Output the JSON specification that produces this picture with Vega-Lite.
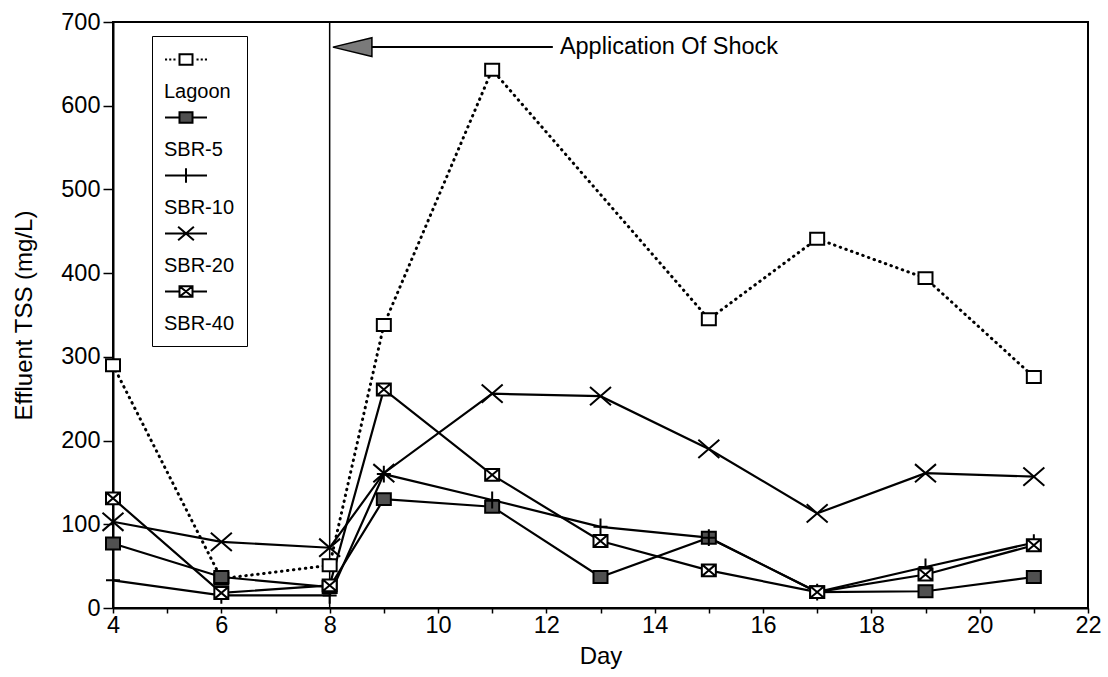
{
  "$schema": "https://vega.github.io/schema/vega-lite/v6.json",
  "width": 975,
  "height": 586,
  "autosize": {"type": "none"},
  "padding": {"left": 113, "top": 22, "right": 20, "bottom": 69},
  "background": "white",
  "config": {
    "view": {"stroke": "black", "strokeWidth": 2},
    "font": "Liberation Sans",
    "axis": {
      "domainColor": "black", "domainWidth": 2, "tickColor": "black", "tickWidth": 1.5,
      "labelColor": "black", "titleColor": "black", "labelFont": "Liberation Sans", "titleFont": "Liberation Sans",
      "labelFontSize": 23.5, "titleFontSize": 24, "titleFontWeight": "normal", "grid": false
    }
  },
  "datasets": {
    "tss": [
      {"series": "Lagoon", "day": 4, "tss": 290},
      {"series": "Lagoon", "day": 6, "tss": 35},
      {"series": "Lagoon", "day": 8, "tss": 51},
      {"series": "Lagoon", "day": 9, "tss": 338},
      {"series": "Lagoon", "day": 11, "tss": 643},
      {"series": "Lagoon", "day": 15, "tss": 345},
      {"series": "Lagoon", "day": 17, "tss": 441},
      {"series": "Lagoon", "day": 19, "tss": 394},
      {"series": "Lagoon", "day": 21, "tss": 276},
      {"series": "SBR-5", "day": 4, "tss": 77},
      {"series": "SBR-5", "day": 6, "tss": 37},
      {"series": "SBR-5", "day": 8, "tss": 25},
      {"series": "SBR-5", "day": 9, "tss": 130},
      {"series": "SBR-5", "day": 11, "tss": 121},
      {"series": "SBR-5", "day": 13, "tss": 37},
      {"series": "SBR-5", "day": 15, "tss": 84},
      {"series": "SBR-5", "day": 17, "tss": 19},
      {"series": "SBR-5", "day": 19, "tss": 20},
      {"series": "SBR-5", "day": 21, "tss": 37},
      {"series": "SBR-10", "day": 4, "tss": 33},
      {"series": "SBR-10", "day": 6, "tss": 15},
      {"series": "SBR-10", "day": 8, "tss": 15},
      {"series": "SBR-10", "day": 9, "tss": 160},
      {"series": "SBR-10", "day": 11, "tss": 129},
      {"series": "SBR-10", "day": 13, "tss": 97},
      {"series": "SBR-10", "day": 15, "tss": 84},
      {"series": "SBR-10", "day": 17, "tss": 19},
      {"series": "SBR-10", "day": 19, "tss": 49},
      {"series": "SBR-10", "day": 21, "tss": 78},
      {"series": "SBR-20", "day": 4, "tss": 103},
      {"series": "SBR-20", "day": 6, "tss": 79},
      {"series": "SBR-20", "day": 8, "tss": 72},
      {"series": "SBR-20", "day": 9, "tss": 161},
      {"series": "SBR-20", "day": 11, "tss": 256},
      {"series": "SBR-20", "day": 13, "tss": 253},
      {"series": "SBR-20", "day": 15, "tss": 190},
      {"series": "SBR-20", "day": 17, "tss": 113},
      {"series": "SBR-20", "day": 19, "tss": 161},
      {"series": "SBR-20", "day": 21, "tss": 157},
      {"series": "SBR-40", "day": 4, "tss": 131},
      {"series": "SBR-40", "day": 6, "tss": 18},
      {"series": "SBR-40", "day": 8, "tss": 27},
      {"series": "SBR-40", "day": 9, "tss": 261},
      {"series": "SBR-40", "day": 11, "tss": 159},
      {"series": "SBR-40", "day": 13, "tss": 80},
      {"series": "SBR-40", "day": 15, "tss": 45},
      {"series": "SBR-40", "day": 17, "tss": 19},
      {"series": "SBR-40", "day": 19, "tss": 40},
      {"series": "SBR-40", "day": 21, "tss": 75}
    ]
  },
  "encoding": {
    "x": {
      "field": "day", "type": "quantitative",
      "scale": {"domain": [4, 22], "nice": false, "zero": false},
      "axis": {
        "title": "Day",
        "values": [4, 5, 6, 7, 8, 9, 10, 11, 12, 13, 14, 15, 16, 17, 18, 19, 20, 21, 22],
        "labelExpr": "datum.value % 2 === 0 ? datum.label : ''",
        "tickSize": 5, "labelPadding": 0, "titlePadding": 8, "labelFlush": false, "labelOverlap": false
      }
    },
    "y": {
      "field": "tss", "type": "quantitative",
      "scale": {"domain": [0, 700], "nice": false},
      "axis": {
        "title": "Effluent TSS (mg/L)",
        "values": [0, 100, 200, 300, 400, 500, 600, 700],
        "tickSize": 10, "labelPadding": 3, "titlePadding": 24, "labelFlush": false, "labelOverlap": false
      }
    }
  },
  "layer": [
    {
      "data": {"values": [{"day": 8, "tss": 0, "tss_end": 700}]},
      "mark": {"type": "rule", "stroke": "black", "strokeWidth": 1.5},
      "encoding": {"y2": {"field": "tss_end"}}
    },
    {
      "data": {"name": "tss"},
      "transform": [{"filter": "datum.series === 'Lagoon'"}],
      "mark": {"type": "line", "stroke": "black", "strokeWidth": 3, "strokeCap": "round", "strokeDash": [0.5, 5.5]},
      "encoding": {"detail": {"field": "series"}}
    },
    {
      "data": {"name": "tss"},
      "transform": [{"filter": "datum.series !== 'Lagoon'"}],
      "mark": {"type": "line", "stroke": "black", "strokeWidth": 2.2},
      "encoding": {"detail": {"field": "series"}}
    },
    {
      "data": {"name": "tss"},
      "mark": {"type": "point", "stroke": "black", "strokeWidth": 2, "size": 196},
      "encoding": {
        "shape": {
          "field": "series", "type": "nominal", "legend": null,
          "scale": {
            "domain": ["Lagoon", "SBR-5", "SBR-10", "SBR-20", "SBR-40"],
            "range": [
              "M-1,-0.85H1V0.85H-1Z",
              "M-1,-0.85H1V0.85H-1Z",
              "M-1,0H1M0,-1.2V1.2",
              "M-1.5,-1.3L1.5,1.3M-1.5,1.3L1.5,-1.3",
              "M-1,-0.85H1V0.85H-1ZM-1,-0.85L1,0.85M-1,0.85L1,-0.85"
            ]
          }
        },
        "fill": {
          "field": "series", "type": "nominal", "legend": null,
          "scale": {"domain": ["Lagoon", "SBR-5", "SBR-10", "SBR-20", "SBR-40"], "range": ["white", "#505050", "transparent", "transparent", "white"]}
        },
        "opacity": {
          "field": "series", "type": "nominal",
          "sort": ["Lagoon", "SBR-5", "SBR-10", "SBR-20", "SBR-40"],
          "scale": {"range": [1, 1, 1, 1, 1]},
          "legend": {
            "orient": "none", "legendX": 39, "legendY": 14, "title": null,
            "strokeColor": "black", "padding": 12,
            "symbolSize": 441, "symbolStrokeWidth": 2, "symbolStrokeColor": "black", "symbolOpacity": 1,
            "symbolType": {"expr": "datum.value === 'Lagoon' ? 'M-1,0H-0.8M-0.6,0H-0.4M-0.2,0H0M0.38,-0.5H1.62V0.5H0.38ZM2,0H2.2M2.4,0H2.6M2.8,0H3' : datum.value === 'SBR-5' ? 'M-1,0H0.38M1.62,0H3M0.38,-0.5H1.62V0.5H0.38Z' : datum.value === 'SBR-10' ? 'M-1,0H3M1,-0.7V0.7' : datum.value === 'SBR-20' ? 'M-1,0H3M0.25,-0.65L1.75,0.65M0.25,0.65L1.75,-0.65' : 'M-1,0H0.38M1.62,0H3M0.38,-0.5H1.62V0.5H0.38ZM0.38,-0.5L1.62,0.5M0.38,0.5L1.62,-0.5'"},
            "symbolFillColor": {"expr": "datum.value === 'SBR-5' ? '#505050' : 'white'"},
            "labelFont": "Liberation Sans", "labelFontSize": 20, "labelColor": "black",
            "labelOffset": -23, "labelBaseline": "top",
            "labelExpr": "['', datum.label]",
            "rowPadding": 4
          }
        }
      }
    },
    {
      "data": {"values": [{"day": 8.78, "day_end": 12.12, "tss": 670}]},
      "mark": {"type": "rule", "stroke": "black", "strokeWidth": 2},
      "encoding": {"x2": {"field": "day_end"}}
    },
    {
      "data": {"values": [{"day": 8.42, "tss": 670}]},
      "mark": {"type": "point", "shape": "M-1,0L1,-0.48L1,0.48Z", "size": 1521, "filled": true, "fill": "#7a7a7a", "stroke": "black", "strokeWidth": 1.5, "opacity": 1}
    },
    {
      "data": {"values": [{"day": 12.25, "tss": 670, "label": "Application Of Shock"}]},
      "mark": {"type": "text", "align": "left", "baseline": "middle", "font": "Liberation Sans", "fontSize": 23.5, "color": "black"},
      "encoding": {"text": {"field": "label"}}
    }
  ]
}
